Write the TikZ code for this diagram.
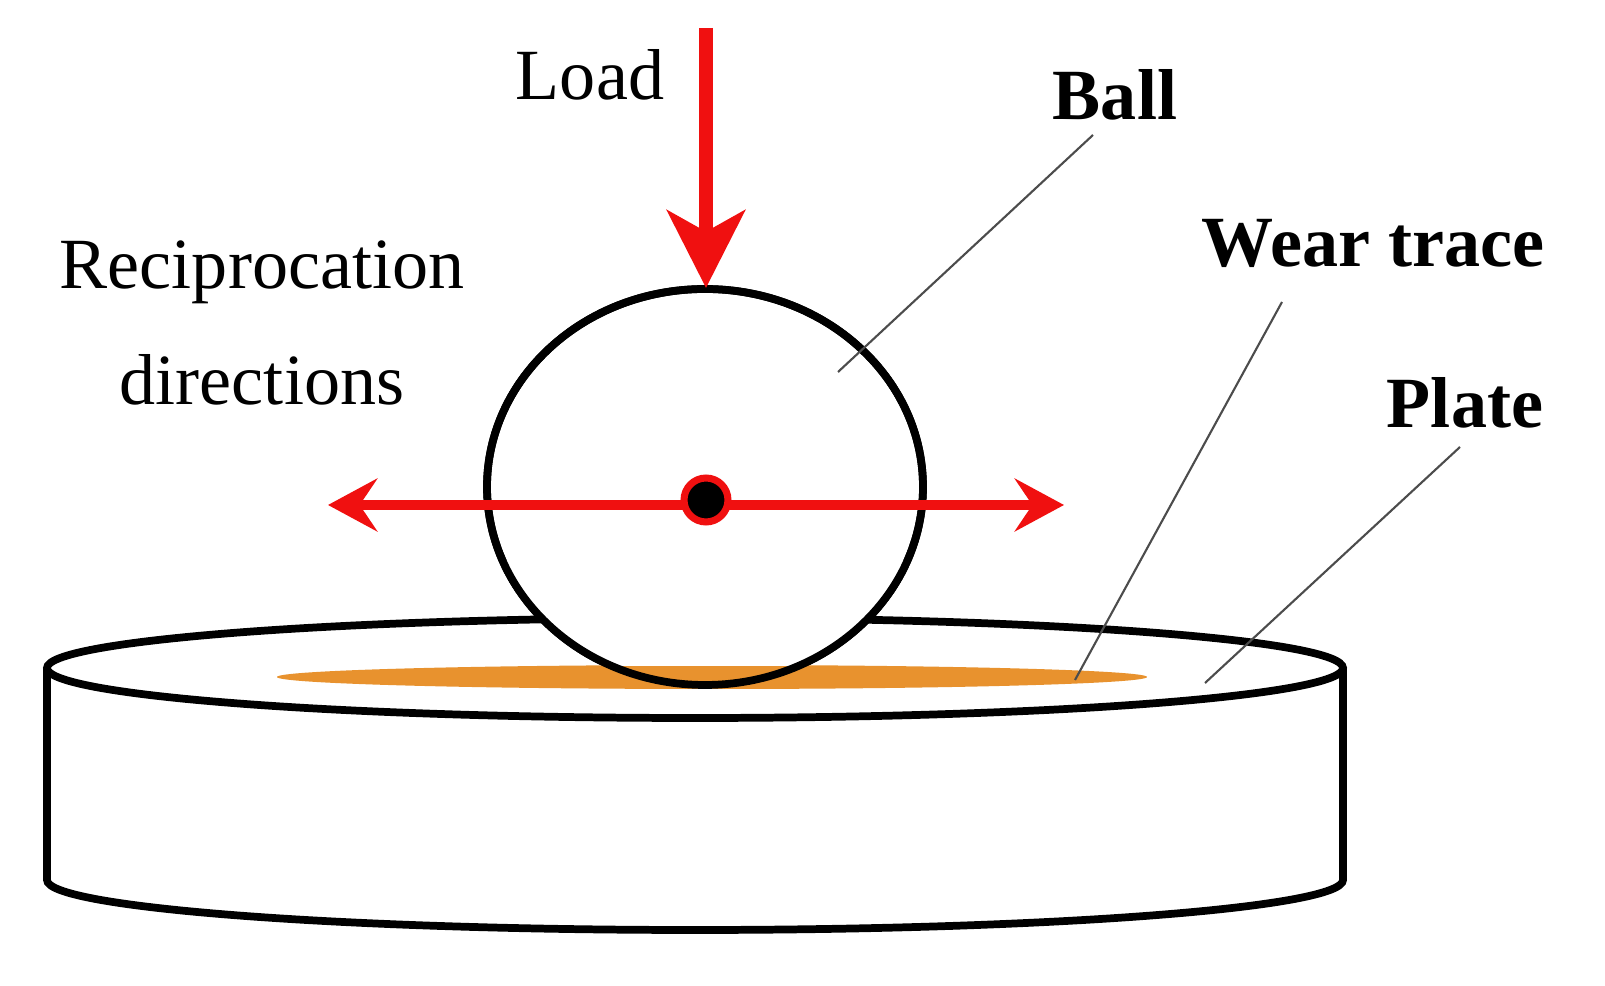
\documentclass[tikz,border=0pt]{standalone}
\usepackage{fontspec}
\setmainfont{Liberation Serif}
\usetikzlibrary{arrows.meta}
\definecolor{wear}{HTML}{E8922E}
\definecolor{arr}{HTML}{F01010}
\begin{document}
\begin{tikzpicture}[x=0.01cm,y=-0.01cm,
  outl/.style={line width=2.2pt,black},
  lead/.style={line width=0.6pt,black!70},
  lbl/.style={font=\fontsize{20.5}{24}\selectfont},
  blbl/.style={font=\fontsize{20.5}{24}\selectfont\bfseries}]
\useasboundingbox (0,0) rectangle (1605,986);
% plate
\coordinate (pc) at (695,668);
\fill[white] (47,668) -- (47,880) arc[start angle=180,end angle=360,x radius=648,y radius=-50] -- (1343,668) -- cycle;
\draw[outl] (47,668) -- (47,880) arc[start angle=180,end angle=360,x radius=648,y radius=-50] -- (1343,668);
\draw[outl,fill=white] (pc) ellipse[x radius=648,y radius=50];
% ball
\draw[outl,fill=white] (705,487) ellipse[x radius=218,y radius=198];
\fill[wear] (712,677) ellipse[x radius=435,y radius=12];
\begin{scope}
\clip (705,487) ellipse[x radius=218,y radius=198];
\fill[white] (400,560) rectangle (1000,666);
\end{scope}
\draw[outl] (705,487) ellipse[x radius=218,y radius=198];
% arrows
\coordinate (lt) at (706,28);
\coordinate (lb) at (706,288);
\draw[arr,line width=4pt,-{Stealth[width=22pt,length=22pt,inset=6pt]}] (lt) -- (lb);
\coordinate (hl) at (328,505);
\coordinate (hr) at (1064,505);
\draw[arr,line width=2.6pt,{Stealth[width=15pt,length=14pt,inset=5pt]}-{Stealth[width=15pt,length=14pt,inset=5pt]}] (hl) -- (hr);
\node[circle,fill=black,draw=arr,line width=2pt,minimum size=12.5pt,inner sep=0] (dot) at (706,500) {};
% labels
\node[lbl] (load) at (590,75) {Load};
\node[lbl] (rec) at (262,272) {Reciprocation};
\node[lbl] (dir) at (262,380) {directions};
\node[blbl] (ball) at (1115,95) {Ball};
\node[blbl] (wt) at (1373,243) {Wear trace};
\node[blbl] (pl) at (1465,403) {Plate};
\coordinate (b1) at (838,372);
\coordinate (w1) at (1075,680);
\coordinate (p1) at (1205,683);
\draw[lead] (1093,135) -- (b1);
\draw[lead] (1282,302) -- (w1);
\draw[lead] (1460,447) -- (p1);
\end{tikzpicture}
\end{document}
